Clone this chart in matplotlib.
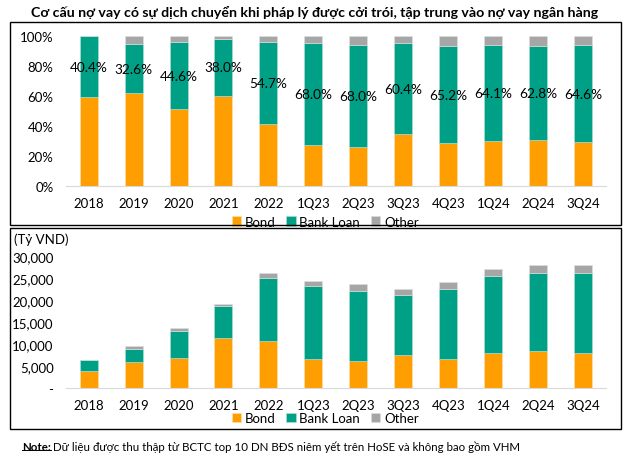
import numpy as np
import matplotlib.pyplot as plt
from matplotlib.patches import Rectangle
from matplotlib.lines import Line2D

plt.rcParams['font.family'] = ['Lato', 'DejaVu Sans']

# data
periods = ['2018', '2019', '2020', '2021', '2022', '1Q23', '2Q23', '3Q23', '4Q23', '1Q24', '2Q24', '3Q24']
bond_pct = [59.6, 62.2, 51.5, 60.3, 41.5, 27.7, 26.5, 34.9, 28.6, 30.4, 31.0, 29.4]
bank_pct = [40.4, 32.6, 44.6, 38.0, 54.7, 68.0, 68.0, 60.4, 65.2, 64.1, 62.8, 64.6]
other_pct = [0.0, 5.2, 3.9, 1.7, 3.8, 4.3, 5.5, 4.7, 6.2, 5.5, 6.2, 6.0]
bank_labels = ['40.4%', '32.6%', '44.6%', '38.0%', '54.7%', '68.0%', '68.0%', '60.4%', '65.2%', '64.1%', '62.8%', '64.6%']

bond_val = [3900, 5900, 6950, 11400, 10750, 6600, 6200, 7650, 6700, 8100, 8550, 8100]
bank_val = [2550, 3100, 6150, 7200, 14250, 16600, 16000, 13650, 15800, 17350, 17750, 18200]
other_val = [0, 550, 600, 500, 1200, 1200, 1400, 1300, 1700, 1650, 1800, 1800]

c_bond = '#FF9E00'
c_bank = '#00A086'
c_other = '#A6A6A6'

fig = plt.figure(figsize=(6.3, 4.6), dpi=100)

fig.text(0.5, 0.972, 'Cơ cấu nợ vay có sự dịch chuyển khi pháp lý được cởi trói, tập trung vào nợ vay ngân hàng',
         ha='center', va='center', fontsize=10.2, fontweight='bold')

# frames
fig.add_artist(Rectangle((0.016, 0.509), 0.970, 0.440, transform=fig.transFigure, fill=False, lw=1, ec='black'))
fig.add_artist(Rectangle((0.016, 0.065), 0.970, 0.437, transform=fig.transFigure, fill=False, lw=1, ec='black'))

x = np.arange(len(periods))
w = 0.4


def style(ax):
    for s in ['top', 'right', 'left']:
        ax.spines[s].set_visible(False)
    ax.spines['bottom'].set_color('#D9D9D9')
    ax.tick_params(length=0, labelsize=9.5)
    ax.tick_params(axis='x', pad=8)
    ax.tick_params(axis='y', pad=9)
    ax.set_xlim(-0.5, len(periods) - 0.5)
    ax.set_xticks(x)
    ax.set_xticklabels(periods)


# top chart: share
ax1 = fig.add_axes([0.1048, 0.5928, 0.857, 0.326])
ax1.bar(x, bond_pct, w, color=c_bond, edgecolor='#FFE0B0', lw=0.4, label='Bond')
ax1.bar(x, bank_pct, w, bottom=bond_pct, color=c_bank, edgecolor='#B0E0D8', lw=0.4, label='Bank Loan')
ax1.bar(x, other_pct, w, bottom=np.add(bond_pct, bank_pct), color=c_other, edgecolor='#E0E0E0', lw=0.4, label='Other')
ax1.set_ylim(0, 100)
ax1.set_yticks(range(0, 101, 20))
ax1.set_yticklabels([f'{v}%' for v in range(0, 101, 20)])
style(ax1)
for i in range(len(periods)):
    ax1.text(x[i], bond_pct[i] + bank_pct[i] / 2, bank_labels[i], ha='center', va='center', fontsize=9.8)
ax1.legend(loc='center', bbox_to_anchor=(0.48, -0.235), ncol=3, frameon=False, fontsize=9.5,
           handlelength=0.7, handleheight=0.7, handletextpad=0.3, columnspacing=0.8)

# bottom chart: value
ax2 = fig.add_axes([0.1048, 0.1537, 0.857, 0.287])
ax2.bar(x, bond_val, w, color=c_bond, edgecolor='#FFE0B0', lw=0.4, label='Bond')
ax2.bar(x, bank_val, w, bottom=bond_val, color=c_bank, edgecolor='#B0E0D8', lw=0.4, label='Bank Loan')
ax2.bar(x, other_val, w, bottom=np.add(bond_val, bank_val), color=c_other, edgecolor='#E0E0E0', lw=0.4, label='Other')
ax2.set_ylim(0, 30000)
ax2.set_yticks(range(0, 30001, 5000))
ax2.set_yticklabels(['-'] + [f'{v:,}' for v in range(5000, 30001, 5000)])
style(ax2)
ax2.legend(loc='center', bbox_to_anchor=(0.48, -0.225), ncol=3, frameon=False, fontsize=9.5,
           handlelength=0.7, handleheight=0.7, handletextpad=0.3, columnspacing=0.8)
fig.text(0.022, 0.478, '(Tỷ VND)', ha='left', va='center', fontsize=9.5)

# note
note = fig.text(0.035, 0.028, 'Note:', ha='left', va='center', fontsize=8.3, fontweight='bold')
fig.canvas.draw()
bb = note.get_window_extent().transformed(fig.transFigure.inverted())
fig.add_artist(Line2D([bb.x0, bb.x1], [bb.y0 + 0.004, bb.y0 + 0.004], transform=fig.transFigure, color='black', lw=0.7))
fig.text(bb.x1 + 0.003, 0.028, 'Dữ liệu được thu thập từ BCTC top 10 DN BĐS niêm yết trên HoSE và không bao gồm VHM',
         ha='left', va='center', fontsize=8.3)

fig.savefig('out.png', dpi=100)
